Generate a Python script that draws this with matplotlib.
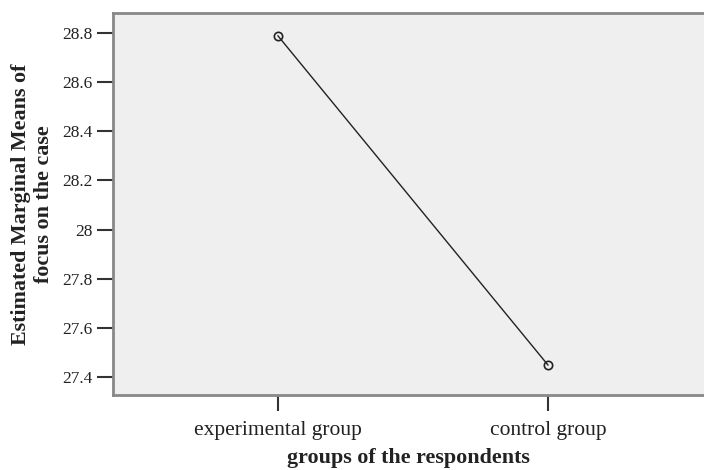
import matplotlib.pyplot as plt


# Данные
groups = ["experimental group", "control group"]
means = [28.788, 27.449]
y_ticks = [27.4, 27.6, 27.8, 28.0, 28.2, 28.4, 28.6, 28.8]
y_labels = ["27.4", "27.6", "27.8", "28", "28.2", "28.4", "28.6", "28.8"]

plt.rcParams["font.family"] = ["Liberation Serif", "DejaVu Serif"]

fig = plt.figure(figsize=(7.04, 4.70), dpi=100)
ax = fig.add_axes([113 / 704, 1 - 395 / 470, 1 - 113 / 704, 382 / 470])
ax.set_facecolor("#efefef")

x = list(range(len(groups)))
ax.plot(x, means, "-", color="#222222", linewidth=1.0)
ax.plot(x, means, "o", markerfacecolor="none", markeredgecolor="#222222",
        markersize=6, markeredgewidth=1.2)

ax.set_xlim(-0.611, 1.578)
ax.set_ylim(27.327, 28.881)
ax.set_xticks(x)
ax.set_xticklabels(groups, fontsize=15.5, color="#222222")
ax.set_yticks(y_ticks)
ax.set_yticklabels(y_labels, fontsize=12.5, color="#222222")
ax.tick_params(axis="both", length=11.5, width=1.5, color="#333333")
ax.tick_params(axis="x", pad=7)
ax.tick_params(axis="y", pad=3)

for side in ["left", "bottom", "top"]:
    ax.spines[side].set_color("#888888")
    ax.spines[side].set_linewidth(2)
ax.spines["right"].set_visible(False)

ax.set_xlabel("groups of the respondents", fontsize=15.8, fontweight="bold",
              labelpad=6, color="#222222")
ax.set_ylabel("Estimated Marginal Means of\nfocus on the case", fontsize=15.8,
              fontweight="bold", labelpad=6, color="#222222", linespacing=1.2)

fig.savefig("out.png", dpi=100)
